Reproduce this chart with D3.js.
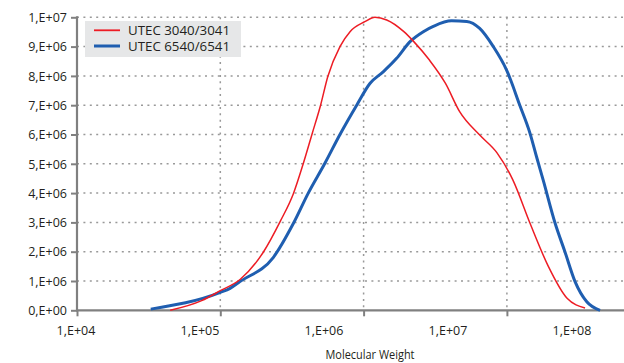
<!DOCTYPE html>
<html>
<head>
<meta charset="utf-8">
<script src="https://cdn.jsdelivr.net/npm/d3@7"></script>
<style>
  html, body { margin: 0; padding: 0; background: #fff; }
  svg { display: block; font-family: "Open Sans", sans-serif; }
</style>
</head>
<body>
<svg id="chart" width="624" height="363"></svg>
<script>
// series names
const seriesNames = ["UTEC 3040/3041", "UTEC 6540/6541"];

// red series: molecular weight / value
const redMW = [44700, 74100, 100000, 138000, 200000, 263000, 324000, 380000, 437000, 501000,
  562000, 684000, 804000, 1020000, 1200000, 1450000, 1910000, 2240000, 2880000, 3720000,
  4680000, 6460000, 8510000, 11000000, 14500000, 19500000, 26300000, 35100000];
const redVal = [0, 330000, 670000, 1060000, 1990000, 3050000, 3990000, 5020000, 6020000, 7000000,
  7970000, 9000000, 9510000, 9850000, 10000000, 9910000, 9510000, 9170000, 8540000, 7750000,
  6780000, 5980000, 5380000, 4450000, 2970000, 1490000, 410000, 80000];

// blue series
const blueMW = [32700, 100000, 117000, 137000, 234000, 324000, 411000, 537000, 684000, 895000,
  1110000, 1370000, 1700000, 2110000, 2610000, 3090000, 4110000, 5250000, 6460000, 8040000,
  9950000, 12300000, 14500000, 16100000, 17900000, 21700000, 25400000, 29900000, 36100000, 44700000];
const blueVal = [40000, 610000, 750000, 980000, 1800000, 2970000, 4000000, 5020000, 6000000, 7000000,
  7750000, 8140000, 8600000, 9170000, 9510000, 9700000, 9880000, 9860000, 9620000, 9000000,
  8200000, 7000000, 6040000, 5240000, 4450000, 2970000, 2000000, 980000, 290000, 0];

// axis ticks
const xTicks = [1e4, 1e5, 1e6, 1e7, 1e8];
const xTickLabels = ["1,E+04", "1,E+05", "1,E+06", "1,E+07", "1,E+08"];
const yTicks = d3.range(0, 11).map(i => i * 1e6);
const yTickLabels = ["0,E+00", "1,E+06", "2,E+06", "3,E+06", "4,E+06", "5,E+06",
  "6,E+06", "7,E+06", "8,E+06", "9,E+06", "1,E+07"];

const svg = d3.select("#chart");
const W = 624;
const plotLeft = 77, plotBottom = 310.3, plotTop = 17.3;

const x = d3.scaleLog().domain([1e4, 1e8]).range([plotLeft, 650.2]);
const y = d3.scaleLinear().domain([0, 1e7]).range([plotBottom, plotTop]);
// tick labels in the original sit on their own evenly spaced row
const xLab = d3.scalePoint().domain(xTickLabels).range([76, 572]);

const gridColor = "#999";
const axisColor = "#808080";
const textColor = "#231f20";

// horizontal grid
svg.append("g").selectAll("line")
  .data(yTicks.slice(1))
  .join("line")
  .attr("x1", plotLeft).attr("x2", W)
  .attr("y1", d => y(d)).attr("y2", d => y(d))
  .attr("stroke", gridColor).attr("stroke-width", 1.5)
  .attr("stroke-dasharray", "2,4.4");

// vertical grid
svg.append("g").selectAll("line")
  .data(xTicks.slice(1))
  .join("line")
  .attr("x1", d => x(d)).attr("x2", d => x(d))
  .attr("y1", plotTop).attr("y2", plotBottom)
  .attr("stroke", gridColor).attr("stroke-width", 1.5)
  .attr("stroke-dasharray", "2,4.4");

// y axis
const yAxis = svg.append("g")
  .attr("transform", `translate(${plotLeft},0)`)
  .call(d3.axisLeft(y).tickValues(yTicks).tickSize(6).tickPadding(4)
    .tickFormat((d, i) => yTickLabels[i]));
yAxis.select(".domain").remove();
yAxis.selectAll(".tick line").attr("stroke", axisColor).attr("stroke-width", 2);
yAxis.selectAll(".tick text")
  .attr("fill", textColor)
  .style("font-size", "12.5px")
  .style("font-family", "'Open Sans', sans-serif")
  .attr("dy", "0.34em");
yAxis.append("line")
  .attr("x1", 0).attr("x2", 0)
  .attr("y1", plotTop - 1).attr("y2", plotBottom + 1)
  .attr("stroke", axisColor).attr("stroke-width", 2.2);

// x axis
const xAxis = svg.append("g")
  .attr("transform", `translate(0,${plotBottom})`)
  .call(d3.axisBottom(x).tickValues(xTicks).tickSize(6).tickFormat(""));
xAxis.select(".domain").remove();
xAxis.selectAll(".tick line").attr("stroke", axisColor).attr("stroke-width", 2);
xAxis.append("line")
  .attr("x1", plotLeft - 1).attr("x2", W)
  .attr("y1", 0).attr("y2", 0)
  .attr("stroke", axisColor).attr("stroke-width", 2.2);

svg.append("g").selectAll("text")
  .data(xTickLabels)
  .join("text")
  .attr("x", d => xLab(d))
  .attr("y", 334.5)
  .attr("text-anchor", "middle")
  .attr("fill", textColor)
  .style("font-size", "12.5px")
  .text(d => d);

svg.append("text")
  .attr("x", 370).attr("y", 359)
  .attr("text-anchor", "middle")
  .attr("fill", textColor)
  .style("font-size", "12px")
  .attr("textLength", 89).attr("lengthAdjust", "spacingAndGlyphs")
  .text("Molecular Weight");

// curves
const line = d3.line()
  .x(d => x(d[0]))
  .y(d => y(d[1]))
  .curve(d3.curveMonotoneX);

const redData = d3.zip(redMW, redVal);
const blueData = d3.zip(blueMW, blueVal);

svg.append("path")
  .datum(blueData)
  .attr("d", line)
  .attr("fill", "none")
  .attr("stroke", "#1f5eb0")
  .attr("stroke-width", 3)
  .attr("stroke-linejoin", "round");

svg.append("path")
  .datum(redData)
  .attr("d", line)
  .attr("fill", "none")
  .attr("stroke", "#ed1c24")
  .attr("stroke-width", 1.5)
  .attr("stroke-linejoin", "round");

// legend
const legend = svg.append("g");
legend.append("rect")
  .attr("x", 85).attr("y", 21)
  .attr("width", 156).attr("height", 36)
  .attr("fill", "#e6e7e8");

const legendColors = ["#ed1c24", "#1f5eb0"];
const legendWidths = [1.8, 3];
seriesNames.forEach((name, i) => {
  const ly = 30.3 + i * 15.7;
  legend.append("line")
    .attr("x1", 94).attr("x2", 120)
    .attr("y1", ly).attr("y2", ly)
    .attr("stroke", legendColors[i])
    .attr("stroke-width", legendWidths[i]);
  legend.append("text")
    .attr("x", 128).attr("y", ly + 5)
    .attr("fill", textColor)
    .style("font-size", "13.5px")
    .attr("textLength", 102).attr("lengthAdjust", "spacingAndGlyphs")
    .text(name);
});
</script>
</body>
</html>
